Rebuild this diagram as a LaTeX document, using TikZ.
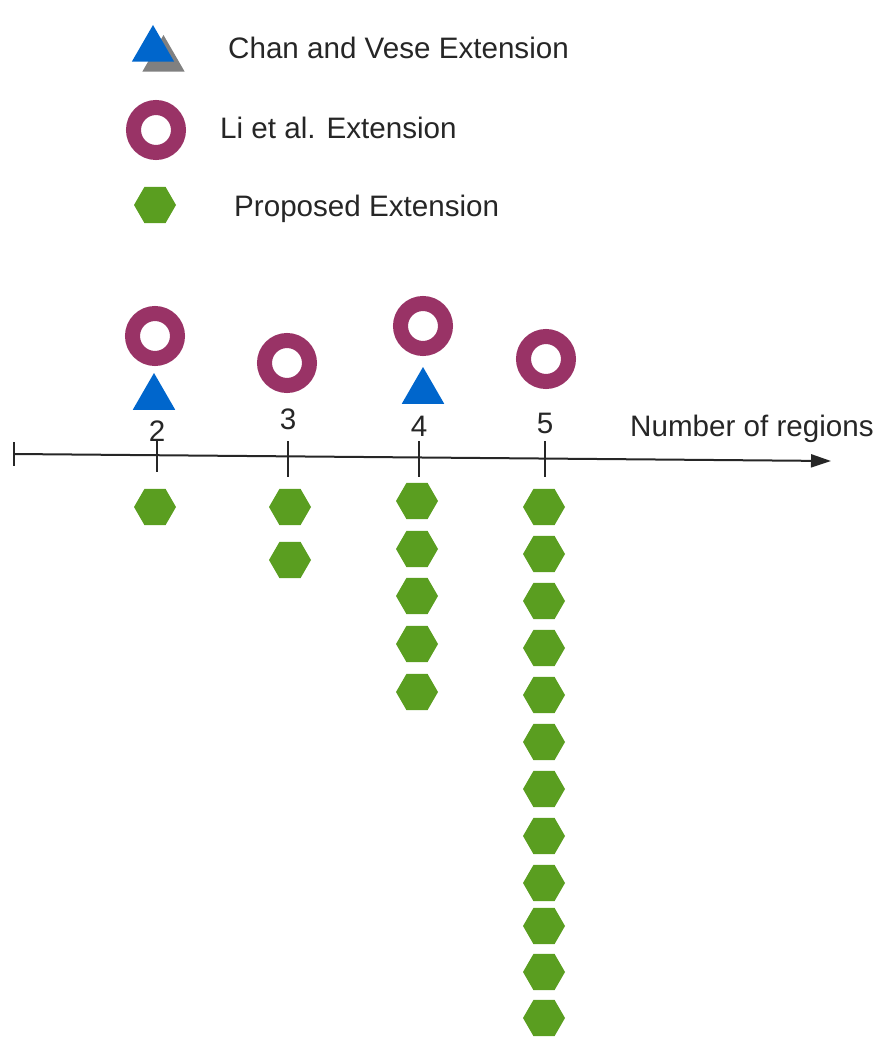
\documentclass[tikz,border=0pt]{standalone}
\usepackage{fontspec}
\setmainfont{Liberation Sans}
\usetikzlibrary{shapes.geometric,arrows.meta}
\definecolor{cvblue}{RGB}{0,102,204}
\definecolor{ligrey}{RGB}{128,128,128}
\definecolor{ring}{RGB}{153,51,102}
\definecolor{hexgreen}{RGB}{90,158,32}
\tikzset{
  hexa/.style={regular polygon,regular polygon sides=6,fill=hexgreen,draw=none,inner sep=0pt,minimum size=42pt},
  ringmark/.style={circle,draw=ring,line width=15pt,fill=white,inner sep=0pt,minimum size=45pt},
  trimark/.style={regular polygon,regular polygon sides=3,fill=cvblue,draw=none,inner sep=0pt,minimum size=49pt},
  lbl/.style={inner sep=0pt,font=\fontsize{29.6}{34}\selectfont,text=black!85},
  axisline/.style={line width=2pt,black!85},
}
\begin{document}
\begin{tikzpicture}[x=1pt,y=-1pt]
\useasboundingbox (0,0) rectangle (881,1041);
% legend
\node[trimark,fill=ligrey] (lg2) at (163.5,59.5) {};
\node[trimark] (lg1) at (153,49.5) {};
\node[lbl,anchor=base west] (lt1) at (228,59) {Chan and Vese Extension};
\node[ringmark] (lg3) at (156,130) {};
\node[lbl,anchor=base west] (lt2) at (220,138) {Li et al. Extension};
\node[hexa] (lg4) at (155,205) {};
\node[lbl,anchor=base west] (lt3) at (234,216) {Proposed Extension};
% axis
\coordinate (a0) at (14,454);
\coordinate (a1) at (831,461);
\draw[axisline,-{Triangle[length=20pt,width=13pt]}] (a0) -- (a1);
\coordinate (e0) at (14,442);
\coordinate (e1) at (14,466);
\draw[axisline] (e0) -- (e1);
\node[lbl,anchor=base west] (axl) at (630,436) {Number of regions};
% ticks
\foreach \n/\x/\yb/\yl in {2/157/472/441,3/288/477/429,4/419/477/436,5/545/477/433}{
  \coordinate (t\n a) at (\x,441);
  \coordinate (t\n b) at (\x,\yb);
  \draw[axisline] (t\n a) -- (t\n b);
  \node[lbl,anchor=base] (n\n) at (\x,\yl) {\n};
}
% rings
\node[ringmark] (r2) at (155,336) {};
\node[ringmark] (r3) at (287,363) {};
\node[ringmark] (r4) at (423,326) {};
\node[ringmark] (r5) at (546,359) {};
% triangles
\node[trimark] (c2) at (154,397.5) {};
\node[trimark] (c4) at (423,391.5) {};
% hexagons
\node[hexa] (h2a) at (155,507) {};
\node[hexa] (h3a) at (290,507) {};
\node[hexa] (h3b) at (290,560) {};
\foreach \i/\y in {1/501,2/549,3/596,4/644,5/692}{
  \node[hexa] (h4\i) at (417,\y) {};
}
\foreach \i/\y in {1/507,2/554,3/601,4/648,5/695,6/742,7/789,8/836,9/883,10/926,11/972,12/1018}{
  \node[hexa] (h5\i) at (544,\y) {};
}
\end{tikzpicture}
\end{document}
